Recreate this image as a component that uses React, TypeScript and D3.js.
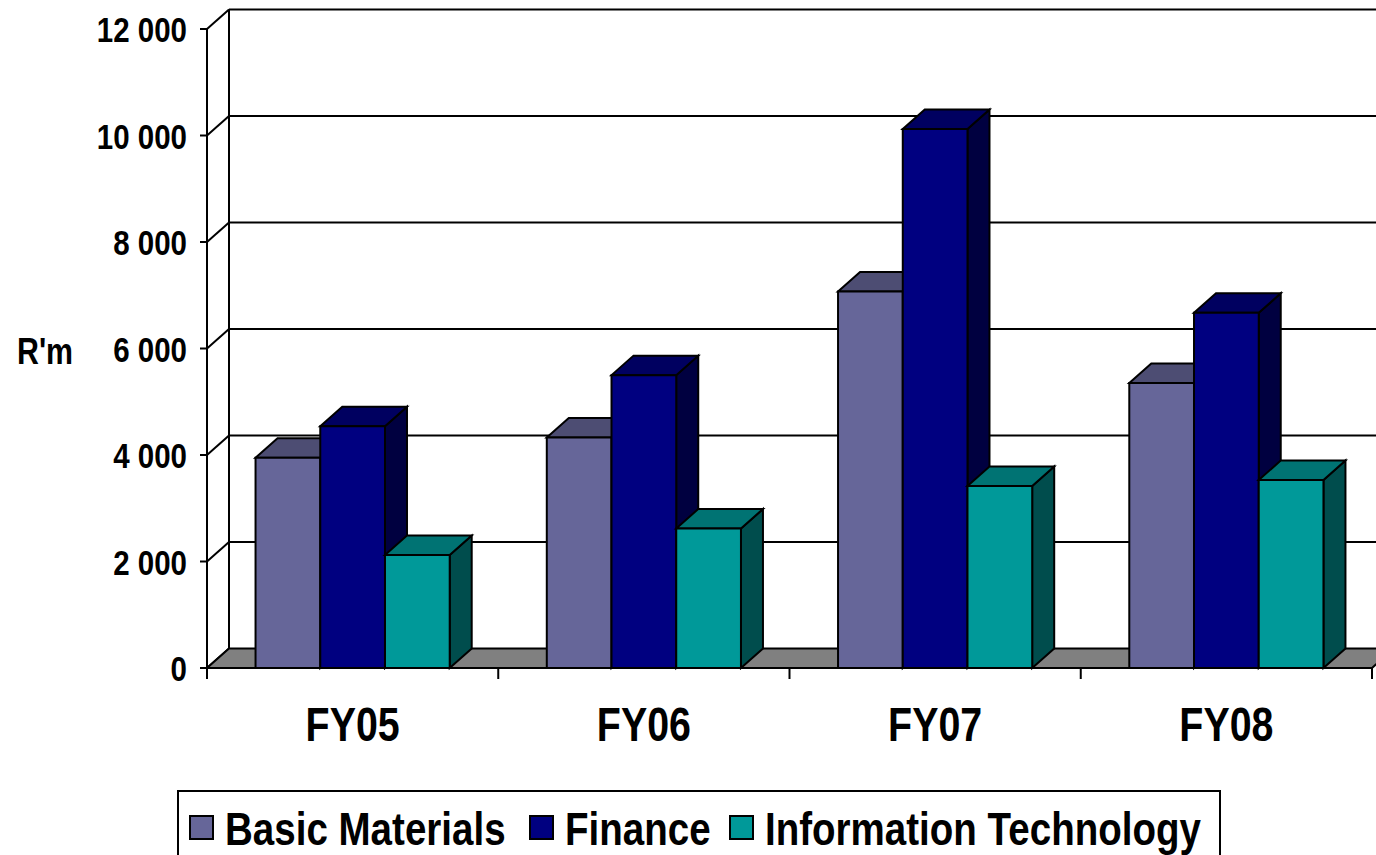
import React from "react";
import * as d3 from "d3";

const categories = ["FY05", "FY06", "FY07", "FY08"];
const seriesNames = ["Basic Materials", "Finance", "Information Technology"];
const basicMaterials = [3950, 4330, 7070, 5350];
const finance = [4540, 5500, 10120, 6670];
const infoTech = [2120, 2620, 3420, 3530];
const yTicks = [0, 2000, 4000, 6000, 8000, 10000, 12000];

const seriesValues = [basicMaterials, finance, infoTech];
const frontColors = ["#666699", "#000080", "#009999"];
const topColors = ["#4d4d73", "#000060", "#007373"];
const sideColors = ["#333352", "#000040", "#004d4d"];

const W = 1376;
const H = 855;
const DX = 22;
const DY = -19.5;
const FONT = "'Liberation Sans', Arial, Helvetica, sans-serif";
const NARROW = 0.82;

const locale = d3.formatLocale({ decimal: ".", thousands: " ", grouping: [3], currency: ["", ""] });
const fmt = locale.format(",");

function NText(props: { x: number; y: number; size: number; anchor?: string; children: React.ReactNode }) {
  return (
    <text
      transform={`translate(${props.x},${props.y}) scale(${NARROW},1)`}
      textAnchor={props.anchor || "start"}
      fontFamily={FONT}
      fontWeight="bold"
      fontSize={props.size}
      fill="#000"
    >
      {props.children}
    </text>
  );
}

export default function App() {
  const x = d3.scaleBand<string>().domain(categories).range([207, 1372]).paddingInner(0).paddingOuter(0);
  const y = d3.scaleLinear().domain([0, 12000]).range([668, 29]);
  const bw = x.bandwidth();
  const barW = bw / 4.5;
  const sub = d3.scaleBand<string>().domain(seriesNames).range([barW * 0.75, barW * 3.75]).padding(0);

  const y0 = y(0);
  const xLeft = x.range()[0];
  const xRight = x.range()[1];

  const bars: React.ReactNode[] = [];
  categories.forEach((c, ci) => {
    seriesNames.forEach((s, si) => {
      const v = seriesValues[si][ci];
      const x0 = (x(c) as number) + (sub(s) as number);
      const x1 = x0 + sub.bandwidth();
      const yt = y(v);
      const front = `M${x0},${y0}L${x1},${y0}L${x1},${yt}L${x0},${yt}Z`;
      const top = `M${x0},${yt}L${x0 + DX},${yt + DY}L${x1 + DX},${yt + DY}L${x1},${yt}Z`;
      const side = `M${x1},${y0}L${x1 + DX},${y0 + DY}L${x1 + DX},${yt + DY}L${x1},${yt}Z`;
      bars.push(
        <g key={`${c}-${s}`} stroke="#000" strokeWidth={2} strokeLinejoin="miter">
          <path d={side} fill={sideColors[si]} />
          <path d={top} fill={topColors[si]} />
          <path d={front} fill={frontColors[si]} />
        </g>
      );
    });
  });

  const legendX = [190, 530, 730];

  return (
    <svg width={W} height={H} style={{ position: "absolute", left: 0, top: 0, background: "#fff" }}>
      {yTicks.map((t) => (
        <g key={`g${t}`} stroke="#000" strokeWidth={2}>
          {t > 0 && <line x1={xLeft + DX} x2={W + 10} y1={y(t) + DY} y2={y(t) + DY} />}
          <line x1={xLeft} y1={y(t)} x2={xLeft + DX} y2={y(t) + DY} />
          <line x1={xLeft - 7} x2={xLeft} y1={y(t)} y2={y(t)} />
        </g>
      ))}
      <line x1={xLeft + DX} x2={xLeft + DX} y1={y(0) + DY} y2={y(12000) + DY} stroke="#000" strokeWidth={2} />
      <path
        d={`M${xLeft},${y0}L${xRight},${y0}L${xRight + DX},${y0 + DY}L${xLeft + DX},${y0 + DY}Z`}
        fill="#808080"
        stroke="#000"
        strokeWidth={2}
      />
      <line x1={xLeft} x2={xLeft} y1={y(0)} y2={y(12000)} stroke="#000" strokeWidth={2} />
      {bars}
      <line x1={xLeft} x2={xRight} y1={y0} y2={y0} stroke="#000" strokeWidth={2} />
      {[...categories.map((c) => x(c) as number), xRight].map((tx, i) => (
        <line key={`xt${i}`} x1={tx} x2={tx} y1={y0} y2={y0 + 11} stroke="#000" strokeWidth={2} />
      ))}
      {categories.map((c) => (
        <NText key={`xl${c}`} x={(x(c) as number) + bw / 2} y={741} size={48} anchor="middle">
          {c}
        </NText>
      ))}
      {yTicks.map((t) => (
        <NText key={`yl${t}`} x={187} y={y(t) + 13} size={36} anchor="end">
          {fmt(t)}
        </NText>
      ))}
      <NText x={17} y={364} size={37}>
        R'm
      </NText>
      <rect x={178} y={791} width={1042} height={80} fill="#fff" stroke="#000" strokeWidth={2} />
      {seriesNames.map((s, i) => {
        const lx = legendX[i];
        return (
          <g key={`lg${s}`}>
            <rect x={lx} y={816} width={23} height={23} fill={frontColors[i]} stroke="#000" strokeWidth={2} />
            <NText x={lx + 35} y={845} size={47}>
              {s}
            </NText>
          </g>
        );
      })}
    </svg>
  );
}
